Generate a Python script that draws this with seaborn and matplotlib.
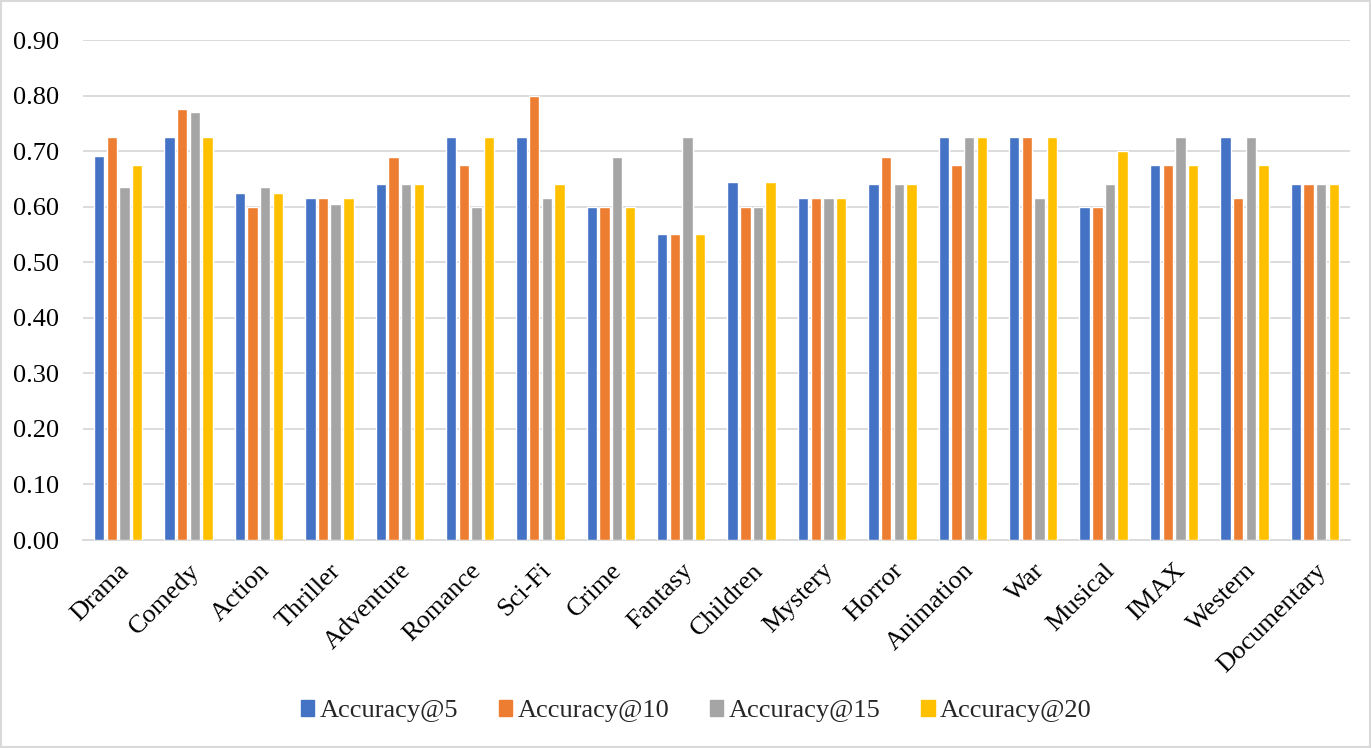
import matplotlib
matplotlib.use("Agg")
import matplotlib.pyplot as plt
import numpy as np
import pandas as pd
import seaborn as sns
from matplotlib.patches import Rectangle

genres = ["Drama", "Comedy", "Action", "Thriller", "Adventure", "Romance",
          "Sci-Fi", "Crime", "Fantasy", "Children", "Mystery", "Horror",
          "Animation", "War", "Musical", "IMAX", "Western", "Documentary"]

acc5 = [0.692, 0.725, 0.625, 0.615, 0.640, 0.725, 0.725, 0.600, 0.550,
        0.645, 0.615, 0.640, 0.725, 0.725, 0.600, 0.675, 0.725, 0.640]
acc10 = [0.725, 0.775, 0.600, 0.615, 0.690, 0.675, 0.800, 0.600, 0.550,
         0.600, 0.615, 0.690, 0.675, 0.725, 0.600, 0.675, 0.615, 0.640]
acc15 = [0.635, 0.770, 0.635, 0.605, 0.640, 0.600, 0.615, 0.690, 0.725,
         0.600, 0.615, 0.640, 0.725, 0.615, 0.640, 0.725, 0.725, 0.640]
acc20 = [0.675, 0.725, 0.625, 0.615, 0.640, 0.725, 0.640, 0.600, 0.550,
         0.645, 0.615, 0.640, 0.725, 0.725, 0.700, 0.675, 0.675, 0.640]

series_names = ["Accuracy@5", "Accuracy@10", "Accuracy@15", "Accuracy@20"]
series_colors = ["#4472C4", "#ED7D31", "#A5A5A5", "#FFC000"]
y_ticks = [0.0, 0.1, 0.2, 0.3, 0.4, 0.5, 0.6, 0.7, 0.8, 0.9]

frames = []
for name, vals in zip(series_names, [acc5, acc10, acc15, acc20]):
    frames.append(pd.DataFrame({"Genre": genres, "Metric": name, "Accuracy": vals}))
df = pd.concat(frames, ignore_index=True)

sns.set_theme(style="white")
plt.rcParams["font.family"] = ["Liberation Serif", "DejaVu Serif"]

fig = plt.figure(figsize=(13.71, 7.48), dpi=100)
ax = fig.add_axes([0.0605, 0.278, 0.9242, 0.6685])

sns.barplot(data=df, x="Genre", y="Accuracy", hue="Metric",
            palette=series_colors, hue_order=series_names, order=genres,
            width=0.72, gap=0.18, saturation=1, errorbar=None, ax=ax, zorder=3)

ax.set_ylim(0, 0.9)
ax.set_xlim(-0.5, len(genres) - 0.5)
ax.set_yticks(y_ticks)
ax.set_yticklabels([f"{t:.2f}" for t in y_ticks], fontsize=19, color="black")
ax.set_xticks(range(len(genres)))
ax.set_xticklabels(genres, rotation=45, ha="right", rotation_mode="anchor",
                   fontsize=19, color="black")
ax.tick_params(axis="y", length=0, pad=17)
ax.tick_params(axis="x", length=0, pad=14)
ax.set_xlabel("")
ax.set_ylabel("")

ax.yaxis.grid(True, color="#d9d9d9", linewidth=1.3, zorder=0)
ax.set_axisbelow(True)
for side in ["top", "right", "left"]:
    ax.spines[side].set_visible(False)
ax.spines["bottom"].set_color("#d9d9d9")
ax.spines["bottom"].set_linewidth(1.3)

ax.legend_.remove()
handles = [Rectangle((0, 0), 1, 1, color=c) for c in series_colors]
fig.legend(handles, series_names, loc="center", bbox_to_anchor=(0.508, 0.049),
           ncol=4, frameon=False, fontsize=19, handlelength=0.5,
           handleheight=0.55, handletextpad=0.2, columnspacing=1.55)

fig.patches.append(Rectangle((0.001, 0.001), 0.998, 0.998, transform=fig.transFigure,
                             fill=False, edgecolor="#d9d9d9", linewidth=1.5))

fig.savefig("out.png", dpi=100, facecolor="white")
